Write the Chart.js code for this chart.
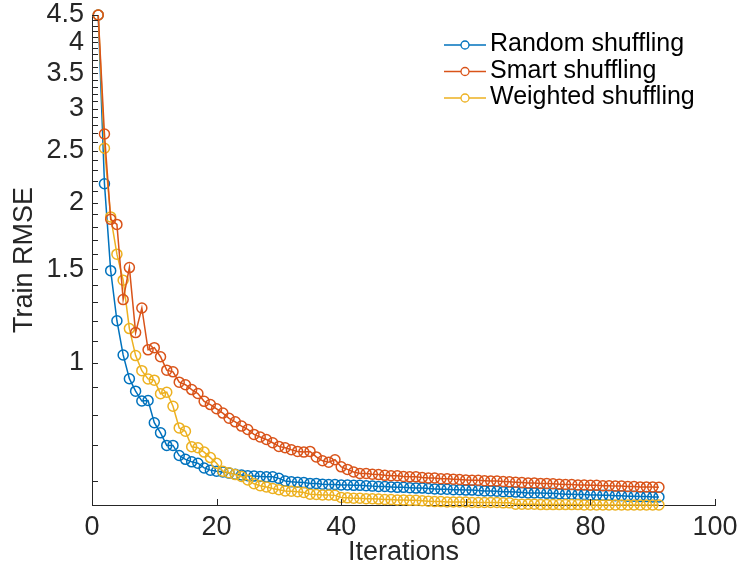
<!DOCTYPE html>
<html><head><meta charset="utf-8">
<script src="https://cdn.jsdelivr.net/npm/chart.js@4"></script>
<style>html,body{margin:0;padding:0;background:#fff}#wrap{width:739px;height:572px}</style>
</head><body><div id="wrap"><canvas id="c" width="739" height="572"></canvas></div>
<script>
const iterations = [1,2,3,4,5,6,7,8,9,10,11,12,13,14,15,16,17,18,19,20,21,22,23,24,25,26,27,28,29,30,31,32,33,34,35,36,37,38,39,40,41,42,43,44,45,46,47,48,49,50,51,52,53,54,55,56,57,58,59,60,61,62,63,64,65,66,67,68,69,70,71,72,73,74,75,76,77,78,79,80,81,82,83,84,85,86,87,88,89,90,91];
const randomShuffling = [4.5,2.17,1.49,1.20,1.035,0.934,0.885,0.848,0.85,0.772,
 0.739,0.70,0.70,0.67,0.659,0.652,0.648,0.635,0.629,0.626,
 0.624,0.621,0.618,0.616,0.614,0.613,0.612,0.611,0.611,0.607,
 0.600,0.598,0.597,0.596,0.594,0.594,0.592,0.591,0.591,0.590,
 0.590,0.589,0.589,0.588,0.587,0.586,0.586,0.585,0.584,0.584,
 0.583,0.582,0.582,0.581,0.580,0.579,0.579,0.578,0.578,0.577,
 0.577,0.576,0.575,0.575,0.574,0.573,0.573,0.572,0.571,0.570,
 0.570,0.570,0.569,0.569,0.568,0.567,0.567,0.566,0.566,0.565,
 0.565,0.564,0.564,0.563,0.563,0.562,0.562,0.561,0.561,0.560,0.560];
const smartShuffling = [4.5,2.69,1.86,1.82,1.315,1.51,1.14,1.268,1.058,1.068,
 1.027,0.969,0.962,0.92,0.91,0.891,0.876,0.847,0.835,0.82,
 0.805,0.787,0.775,0.761,0.75,0.734,0.726,0.718,0.708,0.697,
 0.693,0.687,0.682,0.680,0.682,0.666,0.655,0.651,0.658,0.638,
 0.631,0.624,0.620,0.620,0.618,0.617,0.615,0.614,0.614,0.612,
 0.611,0.611,0.609,0.608,0.608,0.606,0.606,0.605,0.604,0.603,
 0.602,0.602,0.601,0.600,0.600,0.599,0.598,0.597,0.596,0.595,
 0.595,0.594,0.594,0.593,0.592,0.591,0.591,0.590,0.590,0.589,
 0.589,0.588,0.588,0.587,0.587,0.586,0.586,0.585,0.585,0.585,0.584];
const weightedShuffling = [4.5,2.53,1.88,1.60,1.43,1.16,1.032,0.967,0.933,0.928,
 0.875,0.881,0.829,0.755,0.744,0.696,0.693,0.680,0.664,0.648,
 0.626,0.622,0.617,0.612,0.603,0.593,0.588,0.585,0.581,0.578,
 0.575,0.574,0.573,0.571,0.567,0.566,0.565,0.565,0.564,0.559,
 0.558,0.557,0.557,0.556,0.556,0.555,0.554,0.554,0.553,0.553,
 0.552,0.552,0.551,0.550,0.549,0.549,0.548,0.548,0.548,0.548,
 0.547,0.547,0.547,0.547,0.547,0.546,0.546,0.543,0.543,0.543,
 0.543,0.542,0.542,0.542,0.542,0.542,0.542,0.542,0.541,0.541,
 0.541,0.541,0.541,0.541,0.541,0.541,0.541,0.541,0.541,0.541,0.541];
const seriesLabels = ['Random shuffling','Smart shuffling','Weighted shuffling'];
const xTickValues = [0,20,40,60,80,100];
const yTickValues = [0.6,0.7,0.8,0.9,1,1.1,1.2,1.3,1.4,1.5,1.6,1.7,1.8,1.9,2,2.1,2.2,2.3,2.4,2.5,2.6,2.7,2.8,2.9,3,3.1,3.2,3.3,3.4,3.5,3.6,3.7,3.8,3.9,4,4.1,4.2,4.3,4.4,4.5];
const yTickLabels = [1,1.5,2,2.5,3,3.5,4,4.5];

const colors = ['#0072BD','#D95319','#EDB120'];
const axisColor = '#262626';
const FONT = '"Liberation Sans", Arial, Helvetica, sans-serif';

const allSeries = [randomShuffling, smartShuffling, weightedShuffling];
const yMin = Math.min(...allSeries.flat());
const yMax = Math.max(...allSeries.flat());

function toPoints(vals){ return iterations.map((it,i)=>({x:it,y:vals[i]})); }

const inwardTicks = {
  id:'inwardTicks',
  afterDraw(chart){
    const {ctx, chartArea:a, scales:{x,y}} = chart;
    ctx.save();
    ctx.strokeStyle = axisColor; ctx.lineWidth = 1;
    ctx.beginPath();
    x.ticks.forEach(t=>{ const px=Math.round(x.getPixelForValue(t.value))+0.5; ctx.moveTo(px,a.bottom); ctx.lineTo(px,a.bottom-6); });
    y.ticks.forEach(t=>{ const py=Math.round(y.getPixelForValue(t.value))+0.5; ctx.moveTo(a.left,py); ctx.lineTo(a.left+6,py); });
    ctx.stroke();
    ctx.restore();
  }
};

const lineLegend = {
  id:'lineLegend',
  afterDraw(chart){
    const ctx = chart.ctx;
    ctx.save();
    chart.data.datasets.forEach((ds,i)=>{
      const ly = 45 + 26.5*i;
      ctx.strokeStyle = ds.borderColor; ctx.lineWidth = 1.5;
      ctx.beginPath(); ctx.moveTo(444,ly); ctx.lineTo(486,ly); ctx.stroke();
      ctx.beginPath(); ctx.arc(465,ly,4,0,Math.PI*2); ctx.fillStyle='#fff'; ctx.fill(); ctx.lineWidth=1.3; ctx.stroke();
      ctx.fillStyle = '#000'; ctx.font = '25px '+FONT; ctx.textAlign='left'; ctx.textBaseline='alphabetic';
      ctx.fillText(ds.label, 490, 51 + 26.5*i);
    });
    ctx.restore();
  }
};

const orders = [2,0,1];
new Chart(document.getElementById('c'), {
  type:'line',
  data:{
    datasets: allSeries.map((vals,i)=>({
      label: seriesLabels[i],
      data: toPoints(vals),
      borderColor: colors[i],
      backgroundColor: colors[i],
      borderWidth: 1.5,
      pointRadius: 5,
      pointBorderWidth: 1.5,
      pointBackgroundColor: 'rgba(0,0,0,0)',
      pointBorderColor: colors[i],
      pointHoverRadius: 5,
      tension: 0,
      fill: false,
      clip: false,
      order: orders[i]
    }))
  },
  options:{
    responsive:false,
    animation:false,
    devicePixelRatio:1,
    layout:{padding:{top:15,right:24,left:0,bottom:0}},
    plugins:{legend:{display:false},tooltip:{enabled:false}},
    scales:{
      x:{
        type:'linear', min:0, max:100,
        afterBuildTicks(s){ s.ticks = xTickValues.map(v=>({value:v})); },
        afterFit(s){ s.height = 67; s.paddingLeft = 0; s.paddingRight = 0; },
        grid:{display:true, drawOnChartArea:false, drawTicks:false},
        border:{display:true, color:axisColor, width:1},
        ticks:{autoSkip:false, maxRotation:0, padding:6, color:axisColor, font:{family:FONT, size:27}},
        title:{display:true, text:'Iterations', color:axisColor, font:{family:FONT, size:27}, padding:{top:0,bottom:3}}
      },
      y:{
        type:'logarithmic', min:yMin, max:yMax,
        afterBuildTicks(s){ s.ticks = yTickValues.map(v=>({value:v})); },
        afterFit(s){ s.width = 92; s.paddingTop = 0; s.paddingBottom = 0; },
        grid:{display:true, drawOnChartArea:false, drawTicks:false},
        border:{display:true, color:axisColor, width:1},
        ticks:{autoSkip:false, padding:8, color:axisColor, font:{family:FONT, size:27},
          callback:(v)=> yTickLabels.includes(v) ? String(v) : ''},
        title:{display:true, text:'Train RMSE', color:axisColor, font:{family:FONT, size:27}, padding:{top:8,bottom:0}}
      }
    }
  },
  plugins:[inwardTicks, lineLegend]
});
</script>
</body></html>
